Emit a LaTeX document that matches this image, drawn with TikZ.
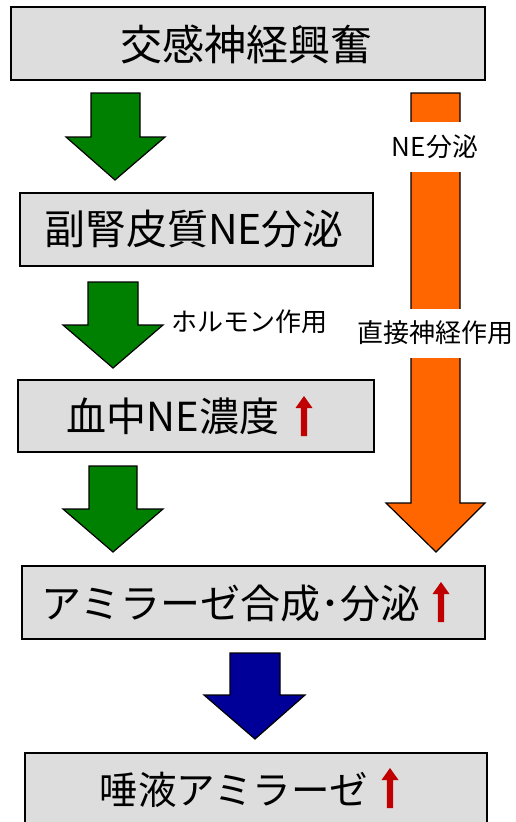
\documentclass[tikz,border=0pt]{standalone}
\usepackage{fontspec}
\setmainfont{Noto Sans CJK JP}
\definecolor{boxgray}{RGB}{221,221,221}
\definecolor{dgreen}{RGB}{0,128,0}
\definecolor{orng}{RGB}{255,102,0}
\definecolor{navy}{RGB}{0,0,153}
\definecolor{redarr}{RGB}{192,0,0}
\tikzset{
  boxstyle/.style={draw=black, line width=1.6pt, fill=boxgray},
  bigtext/.style={font=\fontsize{40}{43}\selectfont, inner sep=0pt, anchor=center},
  smalltext/.style={font=\fontsize{26}{28}\selectfont, inner sep=0pt, fill=white},
  blockarrow/.style={draw=black, line width=1.2pt, line join=miter},
  redup/.pic={\fill[redarr] (-3.2,0) -- (-3.2,-28) -- (-8.5,-28) -- (0,-40) -- (8.5,-28) -- (3.2,-28) -- (3.2,0) -- cycle;}
}
\begin{document}
\begin{tikzpicture}[x=1pt,y=-1pt]
\path[use as bounding box, clip] (0,0) rectangle (515,822);
\fill[white] (0,0) rectangle (515,822);

% boxes
\draw[boxstyle] (11,7) rectangle (485,80);
\node[bigtext, font=\fontsize{42}{45}\selectfont] (t1) at (246,44) {交感神経興奮};

\draw[boxstyle] (20,193) rectangle (373,266);
\node[bigtext, font=\fontsize{41}{44}\selectfont] (t2) at (194,229) {副腎皮質NE分泌};

\draw[boxstyle] (18,380) rectangle (374,452);
\node[bigtext] (t3) at (173,416) {血中NE濃度};
\pic at (304,436) {redup};

\draw[boxstyle] (22,566) rectangle (485,639);
\node[bigtext] (t4) at (231,603) {アミラーゼ合成･分泌};
\pic at (441,622) {redup};

\draw[boxstyle] (25,753) rectangle (487,840);
\node[bigtext, font=\fontsize{38.5}{41}\selectfont] (t5) at (234,790) {唾液アミラーゼ};
\pic at (390,808) {redup};

% green arrows
\filldraw[blockarrow, fill=dgreen] (91,93) -- (140,93) -- (140,137) -- (165,137) -- (115,180) -- (66,137) -- (91,137) -- cycle;
\filldraw[blockarrow, fill=dgreen] (88,282) -- (138,282) -- (138,325) -- (163,325) -- (113,368) -- (63,325) -- (88,325) -- cycle;
\filldraw[blockarrow, fill=dgreen] (89,466) -- (137,466) -- (137,509) -- (163,509) -- (113,552) -- (63,509) -- (89,509) -- cycle;

% blue arrow
\filldraw[blockarrow, fill=navy] (230,653) -- (280,653) -- (280,695) -- (305,695) -- (255,739) -- (204,695) -- (230,695) -- cycle;

% orange arrow
\filldraw[blockarrow, fill=orng] (411,93) -- (460,93) -- (460,503) -- (485,503) -- (436,552) -- (386,503) -- (411,503) -- cycle;
\node[smalltext, minimum height=50pt, minimum width=56pt] (ne) at (435,147) {NE分泌};
\node[smalltext, minimum height=49pt] (direct) at (435,333) {直接神経作用};

% hormone label
\node[smalltext, anchor=center] (horm) at (249,322) {ホルモン作用};
\end{tikzpicture}
\end{document}
